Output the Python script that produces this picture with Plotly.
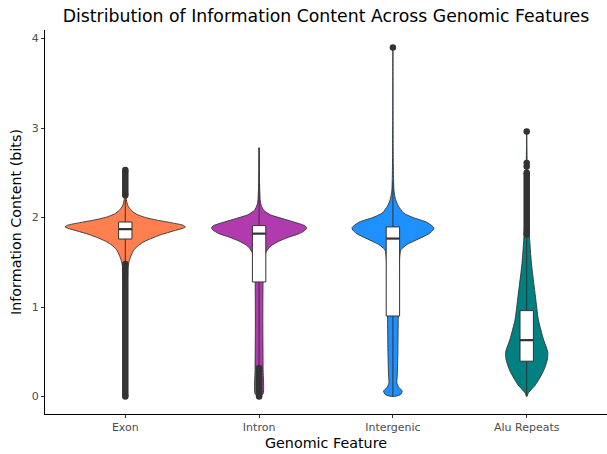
import plotly.graph_objects as go

# ---------------- data ----------------
categories = ["Exon", "Intron", "Intergenic", "Alu Repeats"]
colors = ["#FF7F50", "#B03AAE", "#1E90FF", "#008080"]

# violin density profiles: value (bits) and half-width (in category units)
exon_y = [0.0, 0.02, 0.3, 0.8, 1.2, 1.45, 1.52, 1.58, 1.64, 1.69, 1.73, 1.77, 1.81, 1.85, 1.88, 1.895,
          1.915, 1.94, 1.97, 2.0, 2.04, 2.08, 2.13, 2.2, 2.35, 2.53]
exon_w = [0.0, 0.01, 0.012, 0.013, 0.015, 0.02, 0.03, 0.045, 0.065, 0.1, 0.14, 0.2, 0.27, 0.36, 0.43, 0.45,
          0.43, 0.35, 0.24, 0.15, 0.08, 0.045, 0.02, 0.008, 0.004, 0.0]

intron_y = [0.0, 0.03, 0.3, 0.8, 1.3, 1.55, 1.62, 1.68, 1.73, 1.78, 1.82, 1.86, 1.885, 1.91, 1.95,
            1.99, 2.03, 2.08, 2.14, 2.2, 2.4, 2.78]
intron_w = [0.0, 0.03, 0.03, 0.028, 0.03, 0.04, 0.055, 0.085, 0.14, 0.22, 0.3, 0.345, 0.356, 0.34, 0.26,
            0.17, 0.085, 0.035, 0.015, 0.008, 0.003, 0.0]

intergenic_y = [0.0, 0.02, 0.06, 0.1, 0.15, 0.25, 0.5, 0.9, 1.3, 1.55, 1.64, 1.7, 1.76, 1.82, 1.86, 1.885,
                1.91, 1.95, 2.0, 2.05, 2.13, 2.2, 2.3, 2.6, 3.9]
intergenic_w = [0.0, 0.055, 0.07, 0.045, 0.03, 0.033, 0.037, 0.04, 0.043, 0.05, 0.06, 0.107, 0.19, 0.27, 0.3,
                0.306, 0.29, 0.25, 0.15, 0.08, 0.04, 0.02, 0.008, 0.003, 0.0]

alu_y = [0.0, 0.04, 0.08, 0.13, 0.19, 0.27, 0.34, 0.42, 0.5, 0.64, 0.86, 1.12, 1.49, 1.8, 2.2, 2.96]
alu_w = [0.0, 0.012, 0.035, 0.065, 0.09, 0.12, 0.14, 0.155, 0.157, 0.125, 0.087, 0.065, 0.035, 0.02,
         0.008, 0.0]

# boxplot statistics
q1 = [1.76, 1.28, 0.90, 0.395]
median = [1.87, 1.82, 1.765, 0.63]
q3 = [1.95, 1.91, 1.895, 0.96]
lower_fence = [1.48, 0.32, 0.0, 0.0]
upper_fence = [2.24, 2.78, 2.4, 1.8]

# outliers: densely packed ranges and isolated points
outlier_ranges = [[(0.0, 1.48), (2.25, 2.53)], [(0.0, 0.32)], [], [(1.81, 2.5)]]
outlier_points = [[], [], [3.9], [2.57, 2.61, 2.96]]

y_ticks = [0, 1, 2, 3, 4]

# ---------------- figure ----------------
profiles = [(exon_y, exon_w), (intron_y, intron_w), (intergenic_y, intergenic_w), (alu_y, alu_w)]
positions = [1, 2, 3, 4]
BOX_W = 0.1
DARK = "#333333"

fig = go.Figure()

# violins
for pos, (vy, vw), col in zip(positions, profiles, colors):
    xs = [pos + w for w in vw] + [pos - w for w in reversed(vw)]
    ys = list(vy) + list(reversed(vy))
    fig.add_trace(go.Scatter(x=xs, y=ys, mode="lines", fill="toself", fillcolor=col,
                             line=dict(color=DARK, width=0.9, shape="spline", smoothing=0.6),
                             hoverinfo="skip", showlegend=False))

# boxplots (whiskers, box, median, outliers)
for i, pos in enumerate(positions):
    h = BOX_W / 2
    fig.add_trace(go.Scatter(x=[pos, pos, None, pos, pos],
                             y=[q3[i], upper_fence[i], None, q1[i], lower_fence[i]],
                             mode="lines", line=dict(color=DARK, width=1),
                             hoverinfo="skip", showlegend=False))
    fig.add_trace(go.Scatter(x=[pos - h, pos + h, pos + h, pos - h, pos - h],
                             y=[q1[i], q1[i], q3[i], q3[i], q1[i]],
                             mode="lines", fill="toself", fillcolor="white",
                             line=dict(color=DARK, width=1),
                             hoverinfo="skip", showlegend=False))
    fig.add_trace(go.Scatter(x=[pos - h, pos + h], y=[median[i], median[i]],
                             mode="lines", line=dict(color=DARK, width=2.2),
                             hoverinfo="skip", showlegend=False))
    for lo, hi in outlier_ranges[i]:
        fig.add_trace(go.Scatter(x=[pos, pos], y=[lo, hi], mode="lines+markers",
                                 line=dict(color=DARK, width=6.5),
                                 marker=dict(color=DARK, size=6.5),
                                 hoverinfo="skip", showlegend=False))
    if outlier_points[i]:
        fig.add_trace(go.Scatter(x=[pos] * len(outlier_points[i]), y=outlier_points[i],
                                 mode="markers", marker=dict(color=DARK, size=6.5),
                                 hoverinfo="skip", showlegend=False))

fig.update_layout(
    width=607, height=454,
    margin=dict(l=45, r=0, t=30, b=40, autoexpand=False),
    paper_bgcolor="white", plot_bgcolor="white",
    font=dict(family="DejaVu Sans", color="black"),
    title=dict(text="Distribution of Information Content Across Genomic Features",
               x=0.5, xref="paper", xanchor="center", y=0.965, yanchor="middle", yref="container",
               font=dict(size=17.3, color="black")),
    showlegend=False,
)
fig.update_xaxes(range=[0.4, 4.6], tickvals=positions, ticktext=categories, automargin=False,
                 showgrid=False, zeroline=False, showline=True, linecolor="black", linewidth=1.1,
                 ticks="outside", ticklen=3, tickcolor=DARK, tickwidth=1,
                 tickfont=dict(size=11, color="#4d4d4d"),
                 title=dict(text="Genomic Feature", font=dict(size=14.3, color="black"), standoff=4))
fig.update_yaxes(range=[-0.195, 4.095], tickvals=y_ticks, ticktext=[str(t) for t in y_ticks],
                 automargin=False,
                 showgrid=False, zeroline=False, showline=True, linecolor="black", linewidth=1.1,
                 ticks="outside", ticklen=3, tickcolor=DARK, tickwidth=1,
                 tickfont=dict(size=11, color="#4d4d4d"),
                 title=dict(text="Information Content (bits)", font=dict(size=14.3, color="black"),
                            standoff=6))

fig.write_html("out.html", config={"displayModeBar": False},
               post_script="document.body.style.margin='0';document.body.style.overflow='hidden';")
